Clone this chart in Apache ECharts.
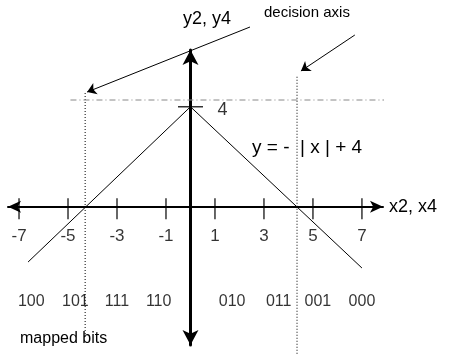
<!DOCTYPE html>
<html>
<head>
<meta charset="utf-8">
<script src="https://cdn.jsdelivr.net/npm/echarts@6/dist/echarts.min.js"></script>
<style>
  html, body { margin: 0; padding: 0; background: #fff; }
  #chart { width: 450px; height: 355px; }
</style>
</head>
<body>
<div id="chart"></div>
<script>
// x axis tick values and the single y tick
const xTicks = [-7, -5, -3, -1, 1, 3, 5, 7];
const yTicks = [4];

// mapped bits written under the axis
const bitLabels = ['100', '101', '111', '110', '010', '011', '001', '000'];
const bitX = [-6.5, -4.7, -3, -1.3, 1.7, 3.6, 5.2, 7];
const bitY = -3.8;

// y = -|x| + 4, as drawn
const curveX = [-6.63, 0, 7.0];
const curveY = [-2.21, 4, -2.45];

// decision axes (dotted verticals)
const decisionX = [-4.3, 4.35];
const decisionTop = [4.55, 5.2];
const decisionBottom = [-5.2, -5.95];

// dashed level through the top of the curve
const levelY = 4.27;
const levelFrom = -4.9;
const levelTo = 10.6;

// pointer arrows, [from, to]
const pointers = [
  [[2.43, 7.19], [-4.22, 4.59]],
  [[6.71, 6.87], [4.51, 5.43]]
];

const font = "'Liberation Sans', Arial, sans-serif";
const chart = echarts.init(document.getElementById('chart'));

const decisionSeries = decisionX.map((x, i) => ({
  type: 'line',
  clip: false,
  silent: true,
  symbol: 'none',
  data: [[x, decisionTop[i]], [x, decisionBottom[i]]],
  lineStyle: { color: '#000', width: 1, type: [1, 2] }
}));

const textLabel = (size, offset) => ({
  show: true,
  position: 'inside',
  offset: offset,
  formatter: p => p.name,
  color: '#000',
  fontSize: size,
  fontFamily: font
});

const option = {
  backgroundColor: '#fff',
  animation: false,
  grid: { left: 8, top: 50, width: 375, height: 295, outerBoundsMode: 'none' },
  xAxis: {
    type: 'value',
    min: -7.45,
    max: 7.86,
    axisLine: {
      onZero: true,
      symbol: ['arrow', 'arrow'],
      symbolSize: [9, 13],
      lineStyle: { color: '#000', width: 2 }
    },
    axisTick: { show: false },
    splitLine: { show: false },
    axisLabel: { show: false }
  },
  yAxis: {
    type: 'value',
    min: -5.53,
    max: 6.27,
    axisLine: {
      onZero: true,
      symbol: ['arrow', 'arrow'],
      symbolSize: [12, 15],
      lineStyle: { color: '#000', width: 3 }
    },
    axisTick: { show: false },
    splitLine: { show: false },
    axisLabel: { show: false }
  },
  graphic: [
    { type: 'text', left: 183, top: 10, style: { text: 'y2, y4', font: '18px ' + font, fill: '#000' } },
    { type: 'text', left: 264, top: 5, style: { text: 'decision axis', font: '15px ' + font, fill: '#000' } },
    { type: 'text', left: 389, top: 198, style: { text: 'x2, x4', font: '18px ' + font, fill: '#000' } },
    { type: 'text', left: 252, top: 138, style: { text: 'y = -  | x | + 4', font: '19px ' + font, fill: '#000' } },
    { type: 'text', left: 20, top: 331, style: { text: 'mapped bits', font: '16px ' + font, fill: '#000' } }
  ],
  series: [
    {
      type: 'line',
      symbol: 'none',
      silent: true,
      data: curveX.map((x, i) => [x, curveY[i]]),
      lineStyle: { color: '#000', width: 1 }
    },
    ...decisionSeries,
    {
      type: 'line',
      clip: false,
      silent: true,
      symbol: 'none',
      data: [[levelFrom, levelY], [levelTo, levelY]],
      lineStyle: { color: '#888', width: 1, type: [6, 3, 1, 3] }
    },
    {
      // x ticks crossing the axis
      type: 'scatter',
      silent: true,
      symbol: 'rect',
      symbolSize: [1.5, 21],
      symbolOffset: [0, 2],
      data: xTicks.map(x => [x, 0]),
      itemStyle: { color: '#000' }
    },
    {
      // x tick labels
      type: 'scatter',
      silent: true,
      symbolSize: 0,
      data: xTicks.map(x => ({ value: [x, 0], name: String(x) })),
      label: textLabel(17, [0, 30])
    },
    {
      // y tick and its label
      type: 'scatter',
      silent: true,
      symbol: 'rect',
      symbolSize: [25, 1.5],
      data: yTicks.map(y => ({ value: [0, y], name: String(y) })),
      itemStyle: { color: '#000' },
      label: textLabel(18, [32, 3])
    },
    {
      type: 'scatter',
      silent: true,
      symbolSize: 0,
      data: bitX.map((x, i) => ({ value: [x, bitY], name: bitLabels[i] })),
      label: textLabel(16, [0, 0])
    },
    {
      type: 'lines',
      coordinateSystem: 'cartesian2d',
      clip: false,
      silent: true,
      symbol: ['none', 'arrow'],
      symbolSize: 9,
      data: pointers.map(p => ({ coords: p })),
      lineStyle: { color: '#000', width: 1, opacity: 1 }
    }
  ]
};

chart.setOption(option);
</script>
</body>
</html>
